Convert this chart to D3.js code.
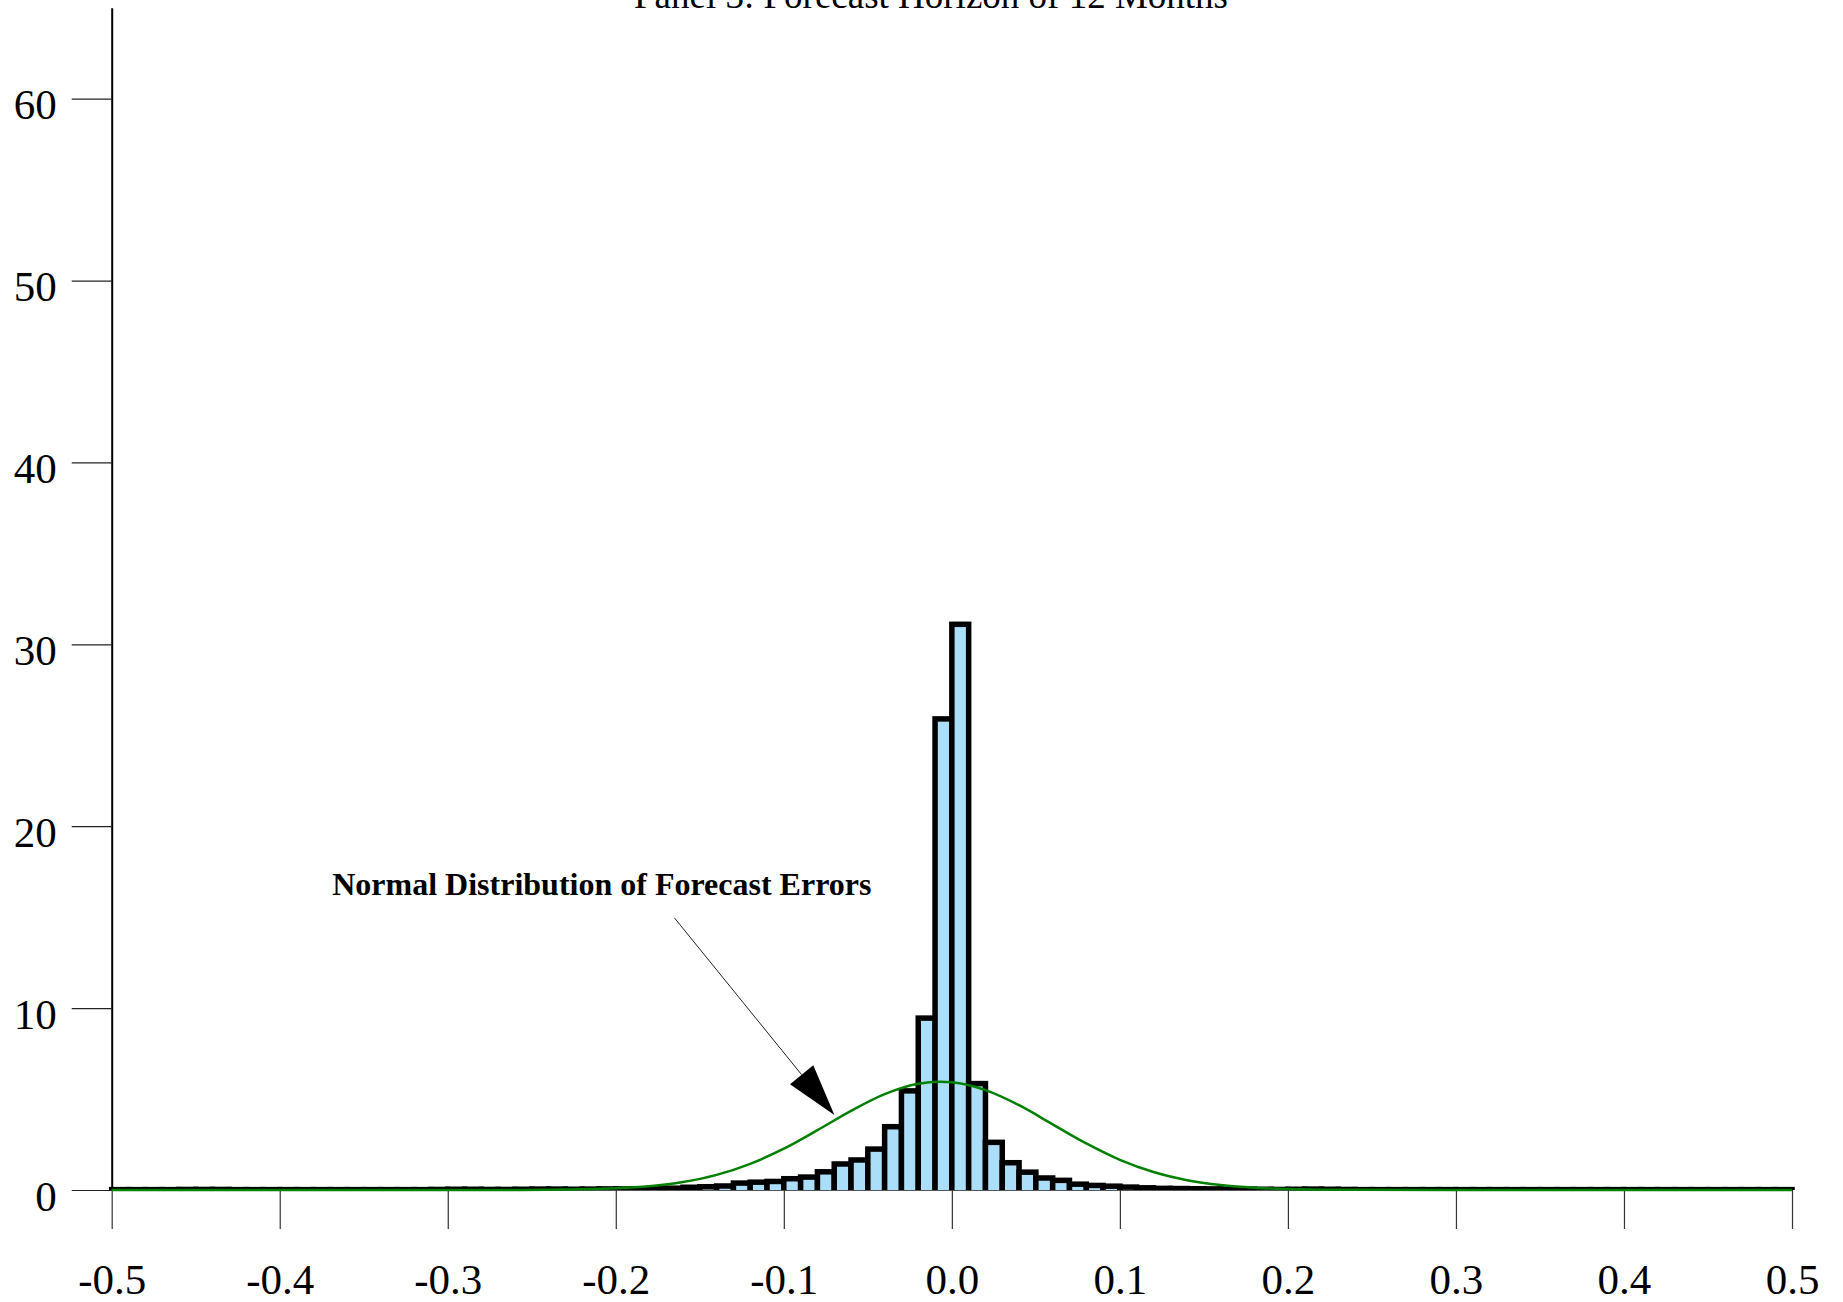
<!DOCTYPE html>
<html>
<head>
<meta charset="utf-8">
<script src="https://cdn.jsdelivr.net/npm/d3@7"></script>
<style>
    body { margin: 0; background: #ffffff; }
    svg { display: block; font-family: "Liberation Serif", "Times New Roman", serif; }
</style>
</head>
<body>
<svg id="chart" width="1843" height="1302"></svg>
<script>
WIDTH = 1843;
HEIGHT = 1302;
BIN_START = -0.5;
BIN_WIDTH = 0.01;

// histogram of forecast errors, one value per 0.01 bin from -0.5 to 0.5
const frequencies = [
    0.02, 0.02, 0.02, 0.02, 0.03, 0.03, 0.03, 0.02, 0.02, 0.02,
    0.02, 0.02, 0.02, 0.02, 0.02, 0.02, 0.02, 0.02, 0.02, 0.03,
    0.04, 0.04, 0.03, 0.03, 0.04, 0.05, 0.05, 0.04, 0.05, 0.06,
    0.06, 0.07, 0.08, 0.10, 0.15, 0.18, 0.22, 0.38, 0.43, 0.47,
    0.62, 0.71, 1.00, 1.43, 1.65, 2.25, 3.48, 5.45, 9.45, 25.9,
    31.1, 5.85, 2.62, 1.50, 0.98, 0.66, 0.53, 0.32, 0.25, 0.21,
    0.16, 0.12, 0.09, 0.08, 0.07, 0.06, 0.05, 0.04, 0.04, 0.03,
    0.04, 0.05, 0.04, 0.03, 0.02, 0.02, 0.02, 0.02, 0.02, 0.02,
    0.02, 0.02, 0.02, 0.02, 0.02, 0.02, 0.02, 0.02, 0.02, 0.02,
    0.02, 0.02, 0.02, 0.02, 0.02, 0.02, 0.02, 0.02, 0.02, 0.02
];

// normal curve, points
const normalX = [-0.5, -0.3, -0.26, -0.24, -0.22, -0.2, -0.18, -0.16, -0.14, -0.12,
    -0.1, -0.08, -0.06, -0.04, -0.02, -0.007, 0, 0.02, 0.04, 0.06,
    0.08, 0.1, 0.12, 0.14, 0.16, 0.18, 0.2, 0.22, 0.24, 0.3, 0.5];
const normalY = [0, 0.001, 0.005, 0.014, 0.038, 0.094, 0.21, 0.44, 0.83, 1.44,
    2.27, 3.29, 4.35, 5.27, 5.84, 5.95, 5.92, 5.49, 4.66, 3.61,
    2.56, 1.66, 0.99, 0.54, 0.27, 0.12, 0.05, 0.019, 0.007, 0.001, 0];

const xTickValues = [-0.5, -0.4, -0.3, -0.2, -0.1, 0, 0.1, 0.2, 0.3, 0.4, 0.5];
const xTickLabels = ['-0.5', '-0.4', '-0.3', '-0.2', '-0.1', '0.0', '0.1', '0.2', '0.3', '0.4', '0.5'];
const yTickValues = [0, 10, 20, 30, 40, 50, 60];

const titleText = 'Panel 3: Forecast Horizon of 12 Months';
const noteText = 'Normal Distribution of Forecast Errors';
// annotation anchor points in data units
const noteLabel = { x: -0.2083, y: 16.2 };
const noteFrom = { x: -0.165, y: 14.95 };
const noteTip = { x: -0.0699, y: 4.12 };

const svg = d3.select('#chart');
svg.append('rect')
    .attr('width', WIDTH)
    .attr('height', HEIGHT)
    .attr('fill', '#ffffff');

const x = d3.scaleLinear()
    .domain([-0.5, 0.5])
    .range([111.7, 1792]);
const y = d3.scaleLinear()
    .domain([0, 65])
    .range([1190, 7.7]);

// bars drop their bottom edge, so clip them at the baseline
svg.append('clipPath')
    .attr('id', 'plot-clip')
    .append('rect')
        .attr('x', 0)
        .attr('y', 0)
        .attr('width', WIDTH)
        .attr('height', y(0));

let bins = frequencies.map((f, i) => {
    return { x0: BIN_START + i * BIN_WIDTH, x1: BIN_START + (i + 1) * BIN_WIDTH, value: f };
});

svg.append('g')
    .attr('clip-path', 'url(#plot-clip)')
    .selectAll('rect').data(bins).enter()
    .append('rect')
        .attr('x', d => x(d.x0))
        .attr('width', d => x(d.x1) - x(d.x0))
        .attr('y', d => y(d.value))
        .attr('height', d => y(0) - y(d.value) + 10)
        .attr('fill', '#abdff9')
        .attr('stroke', '#000000')
        .attr('stroke-width', 5.5)
        .attr('stroke-linejoin', 'miter');

// x axis
let xAxis = svg.append('g')
    .attr('transform', 'translate(0,' + y(0) + ')')
    .call(d3.axisBottom(x)
        .tickValues(xTickValues)
        .tickFormat((d, i) => xTickLabels[i])
        .tickSize(39)
        .tickSizeOuter(0)
        .tickPadding(34));
xAxis.select('.domain').attr('stroke', '#555555').attr('stroke-width', 1);
xAxis.selectAll('.tick line').attr('stroke', '#333333').attr('stroke-width', 1.2);
xAxis.selectAll('.tick text')
    .attr('font-family', '"Liberation Serif", "Times New Roman", serif')
    .attr('font-size', 43)
    .attr('fill', '#000000');

// y axis
let yAxis = svg.append('g')
    .attr('transform', 'translate(' + x(-0.5) + ',0)')
    .call(d3.axisLeft(y)
        .tickValues(yTickValues)
        .tickSize(40)
        .tickSizeOuter(0)
        .tickPadding(15));
yAxis.select('.domain').attr('stroke', '#000000').attr('stroke-width', 2);
yAxis.selectAll('.tick line').attr('stroke', '#222222').attr('stroke-width', 1.2);
yAxis.selectAll('.tick text')
    .attr('dy', '0.47em')
    .attr('font-family', '"Liberation Serif", "Times New Roman", serif')
    .attr('font-size', 43)
    .attr('fill', '#000000');

// normal curve on top of bars
let curvePoints = normalX.map((v, i) => [v, normalY[i]]);
svg.append('path')
    .datum(curvePoints)
    .attr('fill', 'none')
    .attr('stroke', '#008000')
    .attr('stroke-width', 2.5)
    .attr('d', d3.line()
        .x(d => x(d[0]))
        .y(d => y(d[1]))
        .curve(d3.curveMonotoneX));

// title, partly cut off at the top like the original
svg.append('text')
    .attr('x', 931)
    .attr('y', 8)
    .attr('text-anchor', 'middle')
    .attr('font-size', 37)
    .text(titleText);

// annotation with arrow
svg.append('text')
    .attr('x', x(noteLabel.x))
    .attr('y', y(noteLabel.y))
    .attr('text-anchor', 'middle')
    .attr('font-size', 32)
    .attr('font-weight', 'bold')
    .text(noteText);

let fx = x(noteFrom.x), fy = y(noteFrom.y);
let tx = x(noteTip.x), ty = y(noteTip.y);
let len = Math.hypot(tx - fx, ty - fy);
let ux = (tx - fx) / len, uy = (ty - fy) / len;
let headLen = 52, headHalf = 15;
let bx = tx - ux * headLen, by = ty - uy * headLen;

svg.append('line')
    .attr('x1', fx)
    .attr('y1', fy)
    .attr('x2', bx)
    .attr('y2', by)
    .attr('stroke', '#222222')
    .attr('stroke-width', 1);
svg.append('path')
    .attr('d', 'M' + tx + ',' + ty +
        'L' + (bx - uy * headHalf) + ',' + (by + ux * headHalf) +
        'L' + (bx + uy * headHalf) + ',' + (by - ux * headHalf) + 'Z')
    .attr('fill', '#000000');
</script>
</body>
</html>
